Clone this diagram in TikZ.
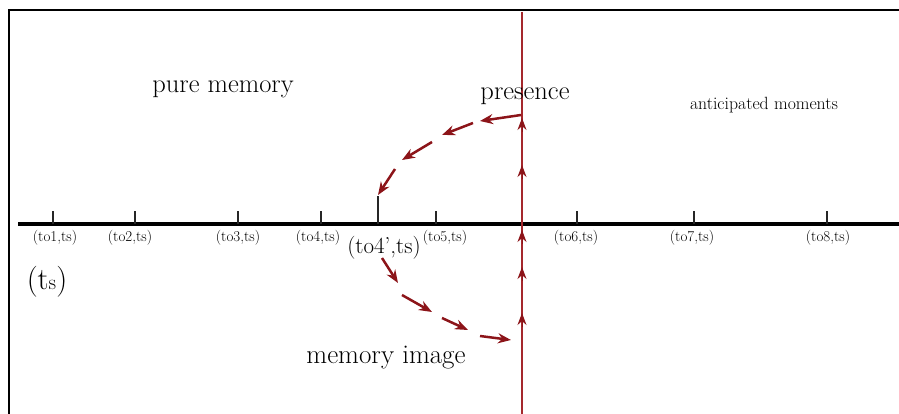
\documentclass[tikz,border=0pt]{standalone}
\usetikzlibrary{arrows.meta}
\definecolor{vline}{RGB}{165,40,45}
\definecolor{arr}{RGB}{140,20,25}
\begin{document}
\begin{tikzpicture}[x=1pt,y=-1pt,
  lbl/.style={inner sep=0pt,anchor=base,font=\fontsize{26.5}{30}\selectfont},
  small/.style={inner sep=0pt,anchor=base,font=\fontsize{15}{17}\selectfont},
  tick/.style={line width=1.6pt,black!85},
  seg/.style={line width=2.5pt,arr,-{Stealth[length=13pt,width=10pt]}},
  upar/.style={line width=1pt,arr,-{Stealth[length=12pt,width=9pt]}}]
\useasboundingbox (0,0) rectangle (899,414);
% frame
\draw[line width=2pt] (9,414) -- (9,10) -- (899,10);
% axis
\coordinate (ax0) at (18,224);
\coordinate (ax1) at (899,224);
\draw[line width=3.5pt] (ax0) -- (ax1);
% ticks
\foreach \x in {53,135,238,321,436,577,694,827}
  \draw[tick] (\x,224) -- (\x,211);
\draw[tick] (378,224) -- (378,196);
% red vertical line
\coordinate (vt) at (522,12);
\coordinate (vb) at (522,414);
\draw[line width=1.6pt,vline] (vt) -- (vb);
% upward arrows on the line
\foreach \y in {118,165,230,267,313}
  \draw[upar] (522,\y+14) -- (522,\y);
% labels
\node[lbl] (pm) at (223,93) {pure memory};
\node[lbl] (pr) at (525,100) {presence};
\node[lbl,font=\fontsize{17.7}{21}\selectfont] (am) at (764,110) {anticipated moments};
\node[lbl,font=\fontsize{27}{31}\selectfont] (mi) at (386,363) {memory image};
\node[small] (l1) at (55,241) {(to1,ts)};
\node[small] (l2) at (130,241) {(to2,ts)};
\node[small] (l3) at (238,241) {(to3,ts)};
\node[small] (l4) at (318,241) {(to4,ts)};
\node[small] (l5) at (445,241) {(to5,ts)};
\node[small] (l6) at (576,241) {(to6,ts)};
\node[small] (l7) at (692,241) {(to7,ts)};
\node[small] (l8) at (828,241) {(to8,ts)};
\node[lbl,font=\fontsize{23}{27}\selectfont] (l4p) at (384,253) {(to4',ts)};
\node[lbl,font=\fontsize{31}{35}\selectfont] (tsl) at (47,289) {(t{\fontsize{21}{24}\selectfont s})};
% upper dashed arc
\coordinate (a0) at (521,115);
\coordinate (a1) at (480,121);
\coordinate (a2) at (473,123);
\coordinate (a3) at (442,135);
\coordinate (a4) at (432,142);
\coordinate (a5) at (402,160);
\coordinate (a6) at (395,169);
\coordinate (a7) at (378,195);
\draw[seg] (a0) -- (a1);
\draw[seg] (a2) -- (a3);
\draw[seg] (a4) -- (a5);
\draw[seg] (a6) -- (a7);
% lower dashed arc
\coordinate (b0) at (382,258);
\coordinate (b1) at (398,283);
\coordinate (b2) at (402,295);
\coordinate (b3) at (432,312);
\coordinate (b4) at (442,318);
\coordinate (b5) at (468,330);
\coordinate (b6) at (480,336);
\coordinate (b7) at (511,340);
\draw[seg] (b0) -- (b1);
\draw[seg] (b2) -- (b3);
\draw[seg] (b4) -- (b5);
\draw[seg] (b6) -- (b7);
\end{tikzpicture}
\end{document}
